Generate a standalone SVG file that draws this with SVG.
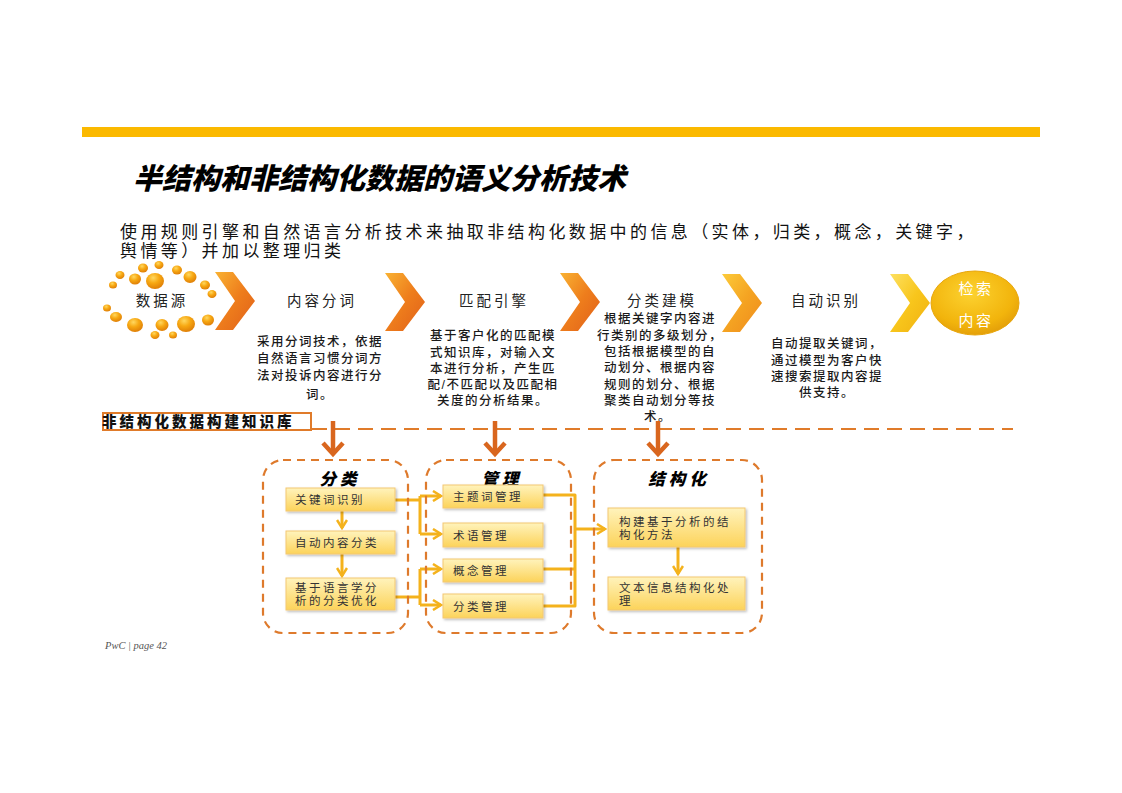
<svg xmlns="http://www.w3.org/2000/svg" width="1122" height="793" viewBox="0 0 1122 793">
<defs>
<style>
.cjk{font-family:"Liberation Sans","Noto Sans CJK SC",sans-serif;}
.title{font-size:29px;font-weight:900;font-style:italic;fill:#000;}
.sub{font-size:17px;fill:#111;letter-spacing:3.4px;}
.lbl{font-size:14.5px;fill:#222;text-anchor:middle;letter-spacing:3px;}
.desc{font-size:12.5px;fill:#1a1a1a;text-anchor:middle;font-weight:500;letter-spacing:1.5px;}
.hdr{font-size:16.5px;font-weight:900;font-style:italic;fill:#000;text-anchor:middle;letter-spacing:4px;}
.btxt{font-size:11.5px;fill:#333;letter-spacing:2.5px;}
.ibox{fill:url(#gBox);stroke:#F3C872;stroke-width:1;filter:url(#sh);}
.dbox{fill:none;stroke:#DE7A2C;stroke-width:2.2;stroke-dasharray:8 6;}
.yl{fill:none;stroke:#F4B21C;stroke-width:3;stroke-linejoin:round;}
.dn{fill:none;stroke:#D9661E;stroke-width:4.5;}
</style>
<linearGradient id="gBox" x1="0" y1="0" x2="0" y2="1">
<stop offset="0" stop-color="#FFF3BC"/><stop offset="1" stop-color="#FCD35A"/>
</linearGradient>
<linearGradient id="gChev" x1="0" y1="0" x2="1" y2="1">
<stop offset="0" stop-color="#F9B233"/><stop offset="0.5" stop-color="#EE7D1C"/><stop offset="1" stop-color="#E0601A"/>
</linearGradient>
<linearGradient id="gChev4" x1="0" y1="0" x2="1" y2="1">
<stop offset="0" stop-color="#FCCB3A"/><stop offset="0.5" stop-color="#F5A422"/><stop offset="1" stop-color="#EE8A1C"/>
</linearGradient>
<linearGradient id="gChev5" x1="0" y1="0" x2="1" y2="1">
<stop offset="0" stop-color="#FDE060"/><stop offset="0.5" stop-color="#F8C61C"/><stop offset="1" stop-color="#F0B010"/>
</linearGradient>
<radialGradient id="gDot" cx="0.4" cy="0.3" r="0.75">
<stop offset="0" stop-color="#FFD860"/><stop offset="0.45" stop-color="#F7A812"/><stop offset="1" stop-color="#DC7A06"/>
</radialGradient>
<radialGradient id="gCirc" cx="0.45" cy="0.35" r="0.7">
<stop offset="0" stop-color="#FCD230"/><stop offset="0.7" stop-color="#F2B40C"/><stop offset="1" stop-color="#E09A08"/>
</radialGradient>
<filter id="sh" x="-10%" y="-20%" width="130%" height="150%">
<feDropShadow dx="1.5" dy="1.5" stdDeviation="1.2" flood-color="#000" flood-opacity="0.25"/>
</filter>
<marker id="ya" viewBox="0 0 12 12" refX="10" refY="6" markerWidth="4" markerHeight="4" markerUnits="strokeWidth" orient="auto">
<path d="M2,1 L10,6 L2,11" fill="none" stroke="#F4B21C" stroke-width="2.5"/>
</marker>
<polygon id="chev" points="0,0 18,0 40,29 18,58 0,58 20,29"/>
</defs>

<rect width="1122" height="793" fill="#fff"/>
<rect x="82" y="127" width="958" height="10" fill="#FBB900"/>

<text class="cjk title" x="133" y="189">半结构和非结构化数据的语义分析技术</text>
<text class="cjk sub" x="120" y="237.5">使用规则引擎和自然语言分析技术来抽取非结构化数据中的信息（实体，归类，概念，关键字，<tspan x="120" y="257">舆情等）并加以整理归类</tspan></text>

<g id="source">
<g fill="url(#gDot)">
<ellipse cx="159" cy="265" rx="4.5" ry="4"/><ellipse cx="143" cy="268" rx="5" ry="4.5"/><ellipse cx="177" cy="270" rx="5" ry="4.5"/>
<ellipse cx="120" cy="275" rx="4.5" ry="4"/><ellipse cx="135" cy="279" rx="6" ry="5.5"/><ellipse cx="155" cy="281" rx="9" ry="8"/>
<ellipse cx="190" cy="277" rx="6.5" ry="6"/><ellipse cx="113" cy="285" rx="4" ry="3.5"/><ellipse cx="205" cy="285" rx="5" ry="4.5"/>
<ellipse cx="212" cy="294" rx="4.5" ry="4"/><ellipse cx="107" cy="308" rx="4" ry="3.5"/><ellipse cx="116" cy="317" rx="6" ry="5"/>
<ellipse cx="135" cy="325" rx="8" ry="7"/><ellipse cx="155" cy="335" rx="4.5" ry="4"/><ellipse cx="162" cy="325" rx="6.5" ry="6"/>
<ellipse cx="173" cy="335" rx="4" ry="3.5"/><ellipse cx="186" cy="324" rx="9" ry="8"/><ellipse cx="208" cy="320" rx="6" ry="5.5"/>
</g>
<text class="cjk lbl" x="162" y="306">数据源</text>
</g>

<g id="chevrons">
<use href="#chev" x="215" y="272" fill="url(#gChev)"/>
<use href="#chev" x="385" y="273" fill="url(#gChev)"/>
<use href="#chev" x="560" y="273" fill="url(#gChev)"/>
<use href="#chev" x="722" y="274" fill="url(#gChev4)"/>
<use href="#chev" x="890" y="274" fill="url(#gChev5)"/>
</g>

<g id="step1">
<text class="cjk lbl" x="322" y="306">内容分词</text>
<text class="cjk desc" x="320" y="346">采用分词技术，依据<tspan x="320" y="363">自然语言习惯分词方</tspan><tspan x="320" y="380">法对投诉内容进行分</tspan><tspan x="320" y="399">词。</tspan></text>
</g>
<g id="step2">
<text class="cjk lbl" x="494" y="306">匹配引擎</text>
<text class="cjk desc" x="493" y="340">基于客户化的匹配模<tspan x="493" y="357">式知识库，对输入文</tspan><tspan x="493" y="373">本进行分析，产生匹</tspan><tspan x="493" y="389">配/不匹配以及匹配相</tspan><tspan x="493" y="405">关度的分析结果。</tspan></text>
</g>
<g id="step3">
<text class="cjk lbl" x="662" y="306">分类建模</text>
<text class="cjk desc" x="660" y="323">根据关键字内容进<tspan x="660" y="340">行类别的多级划分，</tspan><tspan x="660" y="356">包括根据模型的自</tspan><tspan x="660" y="372">动划分、根据内容</tspan><tspan x="660" y="389">规则的划分、根据</tspan><tspan x="660" y="405">聚类自动划分等技</tspan><tspan x="658" y="421">术。</tspan></text>
</g>
<g id="step4">
<text class="cjk lbl" x="826" y="306">自动识别</text>
<text class="cjk desc" x="827" y="348">自动提取关键词，<tspan x="827" y="365">通过模型为客户快</tspan><tspan x="827" y="381">速搜索提取内容提</tspan><tspan x="827" y="397">供支持。</tspan></text>
</g>
<g id="result">
<ellipse cx="975" cy="303" rx="44" ry="32" fill="url(#gCirc)" stroke="#E8A60C" stroke-width="1"/>
<text class="cjk" x="976" y="294" font-size="15" fill="#fff" text-anchor="middle" letter-spacing="2.5">检索<tspan x="976" y="326">内容</tspan></text>
</g>

<g id="kb">
<rect x="103" y="413" width="208" height="17" fill="#fff" stroke="#E07B2A" stroke-width="2"/>
<text class="cjk" x="102" y="427" font-size="14.5" font-weight="900" fill="#111" letter-spacing="3">非结构化数据构建知识库</text>
</g>

<g id="connectors">
<line x1="312" y1="429" x2="1013" y2="429" stroke="#E07B2A" stroke-width="2" stroke-dasharray="15 8"/>
<line class="dn" x1="333" y1="421" x2="333" y2="453"/>
<polyline class="dn" points="323,443 333,454 343,443"/>
<line class="dn" x1="495" y1="421" x2="495" y2="453"/>
<polyline class="dn" points="485,443 495,454 505,443"/>
<line class="dn" x1="658" y1="421" x2="658" y2="453"/>
<polyline class="dn" points="648,443 658,454 668,443"/>

<line class="yl" x1="342" y1="511" x2="342" y2="528" marker-end="url(#ya)"/>
<line class="yl" x1="342" y1="554" x2="342" y2="576" marker-end="url(#ya)"/>

<polyline class="yl" points="395,500 420,500"/>
<polyline class="yl" points="420,496 420,534"/>
<line class="yl" x1="420" y1="496" x2="441" y2="496" marker-end="url(#ya)"/>
<line class="yl" x1="420" y1="534" x2="441" y2="534" marker-end="url(#ya)"/>
<polyline class="yl" points="395,597 420,597"/>
<polyline class="yl" points="420,569 420,605"/>
<line class="yl" x1="420" y1="569" x2="441" y2="569" marker-end="url(#ya)"/>
<line class="yl" x1="420" y1="605" x2="441" y2="605" marker-end="url(#ya)"/>

<polyline class="yl" points="543,495 575,495 575,606 543,606"/>
<line class="yl" x1="543" y1="569" x2="575" y2="569"/>
<line class="yl" x1="575" y1="529" x2="605" y2="529" marker-end="url(#ya)"/>

<line class="yl" x1="678" y1="547" x2="678" y2="574" marker-end="url(#ya)"/>
</g>

<g id="group-classify">
<rect class="dbox" x="263" y="460" width="145" height="173" rx="20"/>
<text class="cjk hdr" x="340" y="485">分类</text>
</g>
<g id="group-manage">
<rect class="dbox" x="426" y="460" width="145" height="173" rx="20"/>
<text class="cjk hdr" x="502" y="485">管理</text>
</g>
<g id="group-struct">
<rect class="dbox" x="594" y="460" width="168" height="173" rx="20"/>
<text class="cjk hdr" x="679" y="485">结构化</text>
</g>

<g id="n-keyword"><rect class="ibox" x="286" y="488" width="109" height="23"/><text class="cjk btxt" x="295" y="504">关键词识别</text></g>
<g id="n-autoclass"><rect class="ibox" x="286" y="531" width="109" height="23"/><text class="cjk btxt" x="295" y="547">自动内容分类</text></g>
<g id="n-linguistic"><rect class="ibox" x="286" y="578" width="109" height="32"/><text class="cjk btxt" x="295" y="592">基于语言学分<tspan x="295" y="605">析的分类优化</tspan></text></g>

<g id="n-topic"><rect class="ibox" x="443" y="485" width="100" height="23"/><text class="cjk btxt" x="453" y="501">主题词管理</text></g>
<g id="n-term"><rect class="ibox" x="443" y="523" width="100" height="24"/><text class="cjk btxt" x="453" y="540">术语管理</text></g>
<g id="n-concept"><rect class="ibox" x="443" y="559" width="100" height="23"/><text class="cjk btxt" x="453" y="575">概念管理</text></g>
<g id="n-category"><rect class="ibox" x="443" y="594" width="100" height="24"/><text class="cjk btxt" x="453" y="611">分类管理</text></g>

<g id="n-build"><rect class="ibox" x="608" y="508" width="137" height="39"/><text class="cjk btxt" x="619" y="526">构建基于分析的结<tspan x="619" y="539">构化方法</tspan></text></g>
<g id="n-text"><rect class="ibox" x="608" y="577" width="137" height="33"/><text class="cjk btxt" x="619" y="592">文本信息结构化处<tspan x="619" y="605">理</tspan></text></g>

<text x="105" y="649" font-family="Liberation Serif,serif" font-style="italic" font-size="10.5" fill="#555">PwC  |  page 42</text>
</svg>
